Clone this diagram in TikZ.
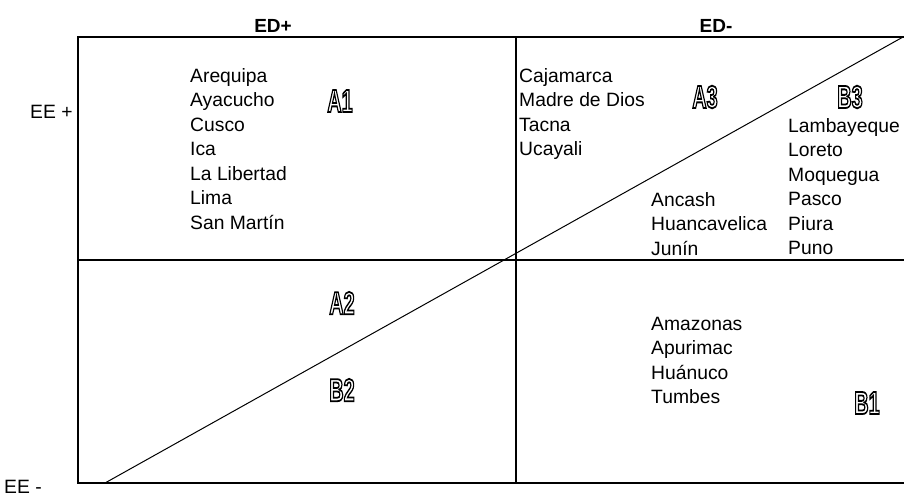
\documentclass[tikz,border=0pt]{standalone}
\usepackage{fontspec}
\setmainfont{Liberation Sans}
\usepackage{graphicx}
\tikzset{
  frame/.style={line width=2.4pt},
  diag/.style={line width=1pt},
  item/.style={anchor=base west, inner sep=0pt, font=\fontsize{19.3}{23}\selectfont},
  head/.style={anchor=center, inner sep=0pt, font=\bfseries\fontsize{19}{23}\selectfont},
  olabel/.style={anchor=center, inner sep=0pt, font=\bfseries\fontsize{32}{32}\selectfont}
}
\newcommand\outlbl[3]{%
  \node[olabel] (#1) at (#2) {\special{pdf:literal direct q 1 Tr 1.8 w}\scalebox{0.62}[1]{#3}\special{pdf:literal direct Q}};
}
\begin{document}
\begin{tikzpicture}[x=1pt,y=-1pt]
\useasboundingbox (0,0) rectangle (904,496);
% frame coordinates
\coordinate (tl) at (78,37);
\coordinate (tr) at (904,37);
\coordinate (bl) at (78,483);
\coordinate (br) at (904,483);
\coordinate (tm) at (516,37);
\coordinate (bm) at (516,483);
\coordinate (ml) at (78,260);
\coordinate (mr) at (904,260);
\coordinate (d1) at (105,483);
\coordinate (d2) at (903,37);
\draw[frame] (tr) -- (tl) -- (bl) -- (br);
\draw[frame] (tm) -- (bm);
\draw[frame] (ml) -- (mr);
\draw[diag] (d1) -- (d2);
% headings
\node[head] (edp) at (273,26) {ED+};
\node[head] (edm) at (716,26) {ED-};
\node[item, anchor=west] (eep) at (30,112) {EE +};
\node[item, anchor=west] (eem) at (4,487) {EE -};
% lists
\foreach \t [count=\i] in {Arequipa,Ayacucho,Cusco,Ica,La Libertad,Lima,San Martín}
  \node[item] (a\i) at (190,{82+(\i-1)*24.5}) {\t};
\foreach \t [count=\i] in {Cajamarca,Madre de Dios,Tacna,Ucayali}
  \node[item] (b\i) at (519,{82+(\i-1)*24.5}) {\t};
\foreach \t [count=\i] in {Ancash,Huancavelica,Junín}
  \node[item] (c\i) at (651,{206+(\i-1)*24.5}) {\t};
\foreach \t [count=\i] in {Lambayeque,Loreto,Moquegua,Pasco,Piura,Puno}
  \node[item] (d\i) at (788,{132+(\i-1)*24.5}) {\t};
\foreach \t [count=\i] in {Amazonas,Apurimac,Huánuco,Tumbes}
  \node[item] (e\i) at (651,{330+(\i-1)*24.5}) {\t};
% outlined labels
\coordinate (pA1) at (340,101);
\coordinate (pA3) at (705,97);
\coordinate (pB3) at (850,97);
\coordinate (pA2) at (342,303);
\coordinate (pB2) at (342,390);
\coordinate (pB1) at (867,403);
\outlbl{A1}{pA1}{A1}
\outlbl{A3}{pA3}{A3}
\outlbl{B3}{pB3}{B3}
\outlbl{A2}{pA2}{A2}
\outlbl{B2}{pB2}{B2}
\outlbl{B1}{pB1}{B1}
\end{tikzpicture}
\end{document}
